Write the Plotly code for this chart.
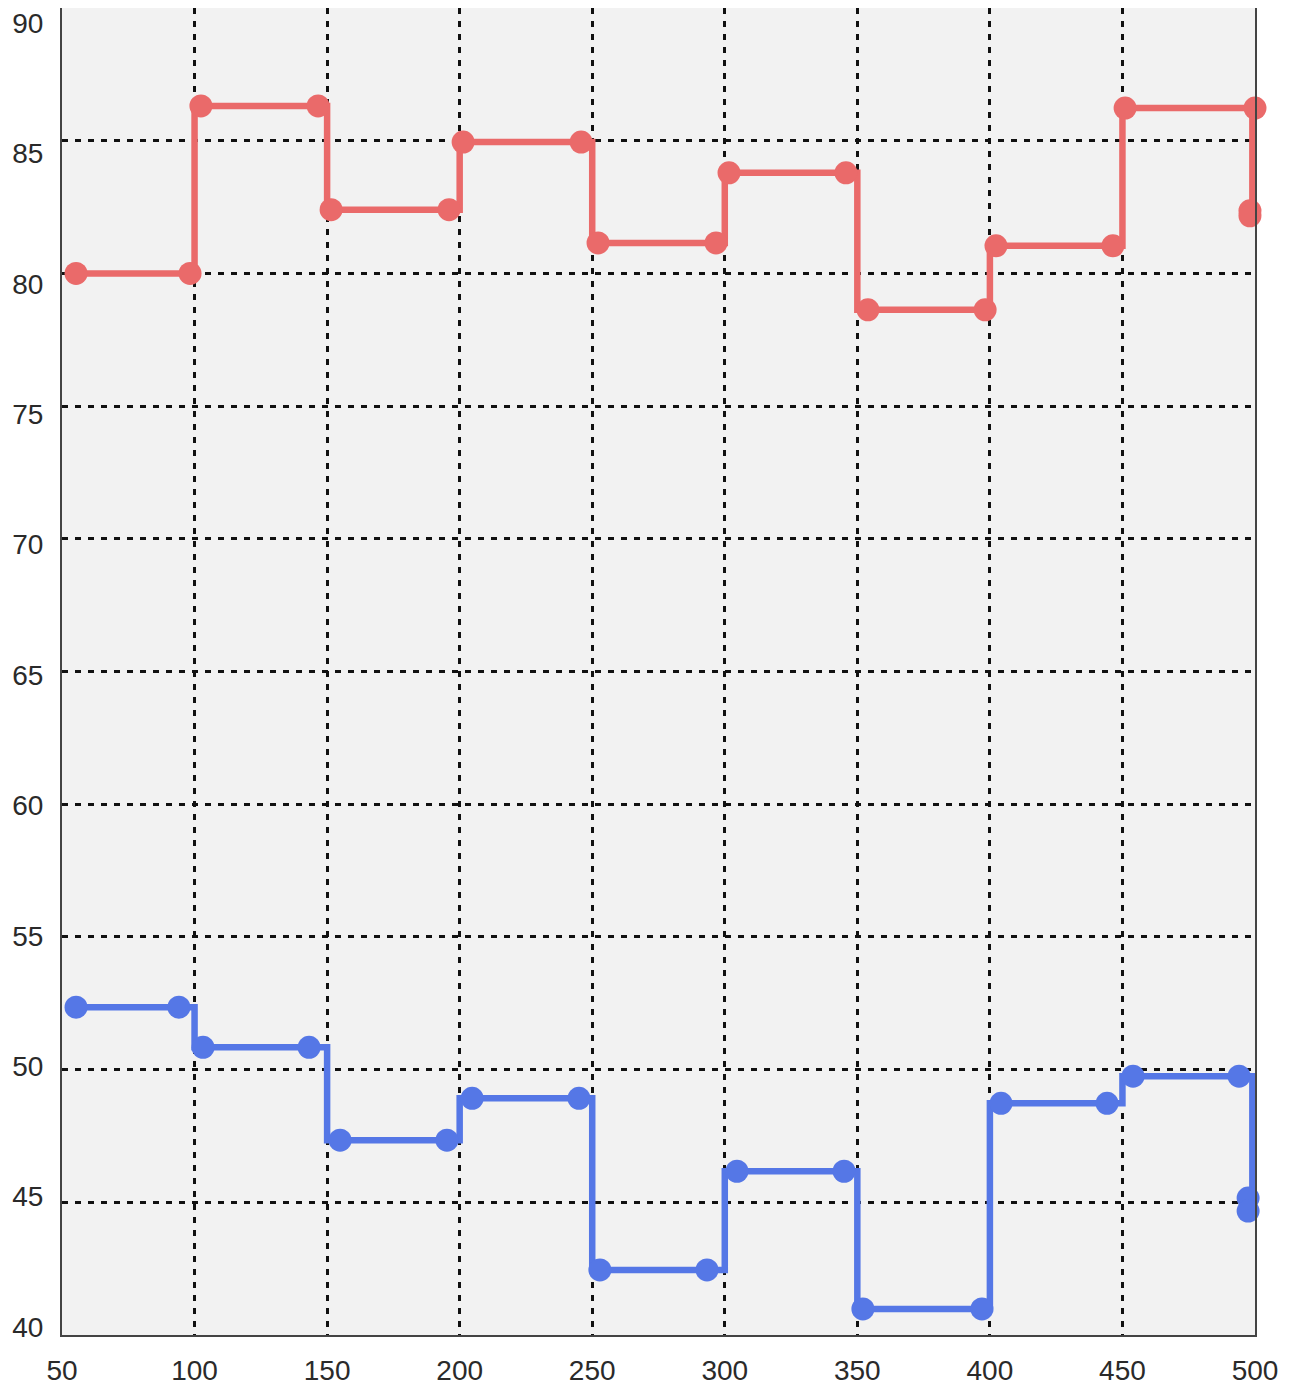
import plotly.graph_objects as go

# Step boundaries (x where each level changes) and the end of the last step
step_x = [100, 150, 200, 250, 300, 350, 400, 450, 499]

# Red series
red_levels = [80.0, 86.31, 82.4, 84.95, 81.15, 83.79, 78.63, 81.04, 86.23]
red_end = 82.2
red_mx = [55.3, 98.3, 102.4, 146.6, 151.5, 196.0, 201.3, 245.8, 252.2, 296.7,
          301.6, 345.7, 354.0, 398.2, 402.3, 446.4, 451.0, 500.0, 498.1, 498.1]
red_my = [80.0, 80.0, 86.31, 86.31, 82.4, 82.4, 84.95, 84.95, 81.15, 81.15,
          83.79, 83.79, 78.63, 78.63, 81.04, 81.04, 86.23, 86.23, 82.36, 82.17]

# Blue series
blue_levels = [52.35, 50.84, 47.34, 48.92, 42.45, 46.17, 40.98, 48.73, 49.75]
blue_end = 44.67
blue_mx = [55.3, 94.1, 103.2, 143.2, 154.9, 195.2, 204.7, 245.0, 252.9, 293.3,
           304.6, 345.0, 352.1, 397.0, 404.2, 444.2, 454.0, 494.0, 497.4, 497.4]
blue_my = [52.35, 52.35, 50.84, 50.84, 47.34, 47.34, 48.92, 48.92, 42.45, 42.45,
           46.17, 46.17, 40.98, 40.98, 48.73, 48.73, 49.75, 49.75, 45.16, 44.67]

x_ticks = [50, 100, 150, 200, 250, 300, 350, 400, 450, 500]
y_ticks = [40, 45, 50, 55, 60, 65, 70, 75, 80, 85, 90]

RED = "#EA6A6A"
BLUE = "#5577E6"

fig = go.Figure()

def add_series(levels, end, mx, my, color):
    lx = [mx[0]] + step_x
    ly = levels + [end]
    fig.add_trace(go.Scatter(x=lx, y=ly, mode="lines", line=dict(color=color, width=6.5, shape="hv"),
                             cliponaxis=False, showlegend=False, hoverinfo="skip"))
    fig.add_trace(go.Scatter(x=mx, y=my, mode="markers", marker=dict(color=color, size=23),
                             cliponaxis=False, showlegend=False))

add_series(red_levels, red_end, red_mx, red_my, RED)
add_series(blue_levels, blue_end, blue_mx, blue_my, BLUE)

# empty trace so that the label axis (y2) is drawn
fig.add_trace(go.Scatter(x=[], y=[], yaxis="y2", showlegend=False, hoverinfo="skip"))

font = dict(family="Liberation Sans, Arial, sans-serif", size=28, color="#2a2a2a")

fig.update_xaxes(range=[50, 500], tickvals=x_ticks, ticktext=[str(v) for v in x_ticks],
                 showgrid=True, gridcolor="#111111", gridwidth=2.6, griddash="6px,7px",
                 showline=True, linecolor="#444444", linewidth=1.5, mirror=True,
                 zeroline=False, automargin=False, ticklabeloverflow="allow",
                 ticks="outside", ticklen=10, tickcolor="rgba(0,0,0,0)", tickfont=font)
fig.update_layout(
    yaxis=dict(range=[40, 90], tickvals=y_ticks, showticklabels=False,
               showgrid=True, gridcolor="#111111", gridwidth=2.6, griddash="6px,7px",
               showline=True, linecolor="#444444", linewidth=1.5, mirror=True,
               zeroline=False, automargin=False),
    # label axis: tick labels of the y axis, spaced as in the reference
    yaxis2=dict(overlaying="y", side="left", range=[39.693, 90.574], tickvals=y_ticks,
                ticktext=[str(v) for v in y_ticks], showgrid=False, showline=False,
                zeroline=False, automargin=False, ticklabeloverflow="allow",
                ticks="outside", ticklen=12, tickcolor="rgba(0,0,0,0)", tickfont=font),
    width=1297, height=1381,
    margin=dict(l=54, r=50, t=0, b=54),
    plot_bgcolor="#F2F2F2", paper_bgcolor="white",
    showlegend=False,
)

fig.write_html("out.html")
